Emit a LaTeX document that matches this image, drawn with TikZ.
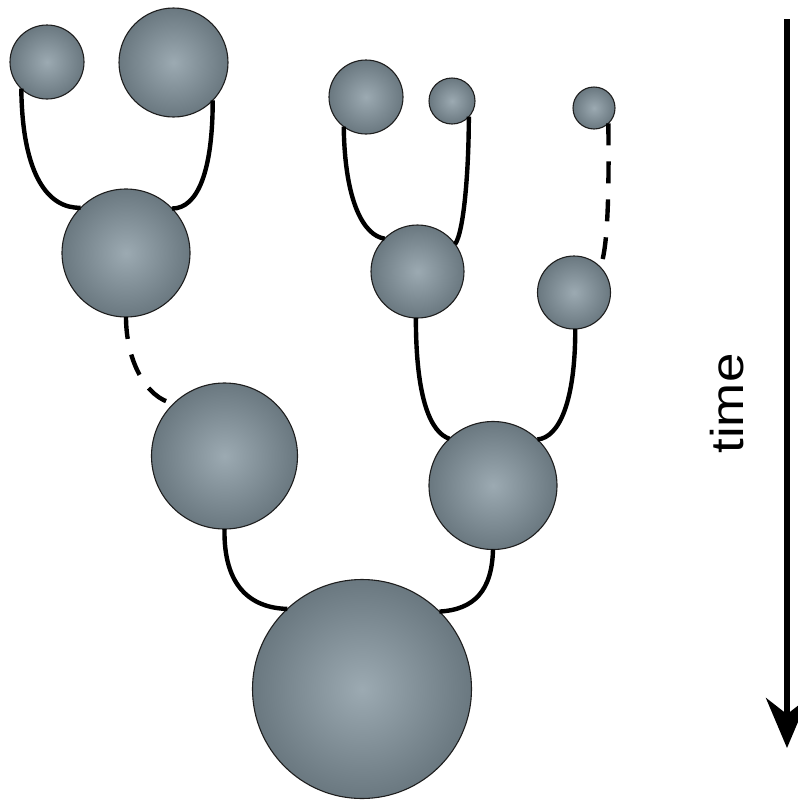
\documentclass[tikz,border=0pt]{standalone}
\usepackage{fontspec}
\setmainfont{Liberation Sans}
\usetikzlibrary{arrows.meta}
\definecolor{ballin}{RGB}{156,170,178}
\definecolor{ballout}{RGB}{106,120,128}
\definecolor{rim}{RGB}{30,30,30}
\tikzset{
  ball/.style={circle, inner sep=0pt, outer sep=0pt, minimum size=#1,
    draw=rim, line width=1.1pt, inner color=ballin, outer color=ballout},
  link/.style={line width=4.4pt, black},
  dlink/.style={line width=4.4pt, black, dash pattern=on 22pt off 16pt}
}
\begin{document}
\begin{tikzpicture}[x=1pt, y=-1pt]
\useasboundingbox (0,0) rectangle (798,801);
% nodes
\node[ball=74pt] (A) at (47,62) {};
\node[ball=109pt] (B) at (173.5,62.5) {};
\node[ball=128pt] (C) at (126,253) {};
\node[ball=146pt] (I) at (224.5,456) {};
\node[ball=219pt] (K) at (362,689) {};
\node[ball=74pt] (D) at (366,97) {};
\node[ball=46pt] (E) at (452,101) {};
\node[ball=42pt] (F) at (594,108) {};
\node[ball=93pt] (G) at (417.5,271.5) {};
\node[ball=73pt] (H) at (574,292.5) {};
\node[ball=128pt] (J) at (493,485.5) {};
% connectors
\draw[link] (A.226) .. controls +(1,88) and +(-32,1) .. (C.135);
\draw[link] (B.316) .. controls +(0,70) and +(26,0) .. (C.44);
\draw[link] (D.233) .. controls +(1,75) and +(-21,-3) .. (G.135);
\draw[link] (E.317) .. controls +(0,52) and +(9,-13) .. (G.36);
\draw[dlink] (F.313) .. controls +(1,77) and +(7,-17) .. (H.44);
\draw[dlink] (C.-90) .. controls +(0,43) and +(-28,-5) .. (I.134);
\draw[link] (G.-92) .. controls +(0,83) and +(-18,-6) .. (J.133);
\draw[link] (H.-88) .. controls +(0,72) and +(22,-2) .. (J.46);
\draw[link] (I.-90) .. controls +(-1,57) and +(-37,-1) .. (K.133);
\draw[link] (J.-90) .. controls +(-1,41) and +(35,-2) .. (K.45);
% time arrow
\coordinate (tt) at (787,19);
\coordinate (tb) at (787,748);
\draw[line width=6pt, -{Stealth[length=50pt, width=42pt]}] (tt) -- (tb);
\node[rotate=90, inner sep=0pt, font=\fontsize{46}{46}\selectfont] (time) at (727.5,403.5) {\scalebox{1.15}[1]{time}};
\end{tikzpicture}
\end{document}
